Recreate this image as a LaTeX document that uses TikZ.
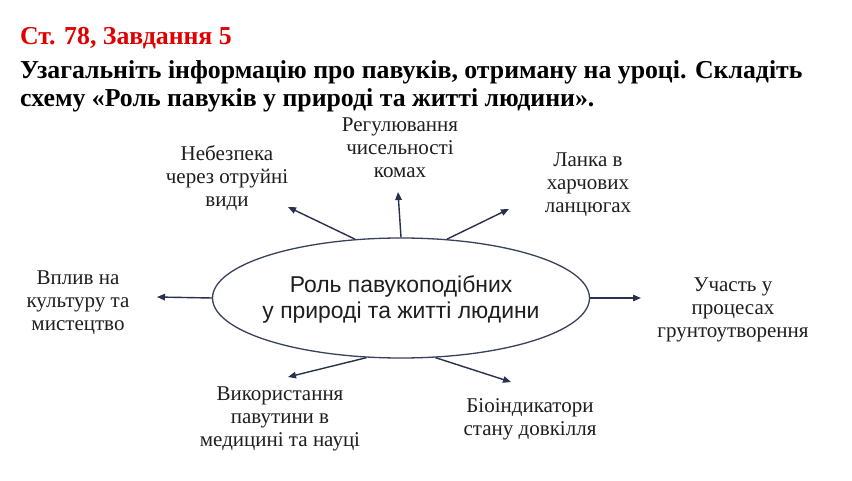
\documentclass[tikz,border=0pt]{standalone}
\usepackage{fontspec}
\setmainfont{Liberation Serif}
\newfontfamily\arialf{Liberation Sans}
\usetikzlibrary{arrows.meta,shapes.geometric}
\definecolor{hdred}{HTML}{E00000}
\definecolor{arrowc}{HTML}{27304F}
\definecolor{txtc}{HTML}{1E1E1E}
\begin{document}
\begin{tikzpicture}[x=1pt,y=-1pt,
  hdr/.style={anchor=base west,inner sep=0pt,font=\fontsize{25.8}{28}\selectfont\bfseries},
  lbl/.style={align=center,inner sep=0pt,text=txtc,font=\fontsize{21}{23}\selectfont},
  arr/.style={draw=arrowc,line width=1.4pt,-{Triangle[length=8pt,width=6.5pt]}}]
\useasboundingbox[fill=white] (0,0) rectangle (852,481);
\node[hdr,text=hdred] (h1) at (20,45) {Ст. 78, Завдання 5};
\node[hdr] (h2) at (20,79) {Узагальніть інформацію про павуків, отриману на уроці. Складіть};
\node[hdr] (h3) at (20,107) {схему «Роль павуків у природі та житті людини».};
\node[draw=arrowc!80!gray,line width=1.3pt,ellipse,inner sep=0pt,minimum width=377pt,minimum height=120pt] (c) at (401,298) {};
\node[inner sep=0pt,align=center,font=\arialf\fontsize{22.9}{26}\selectfont,text=txtc] (ct) at (401,299) {Роль павукоподібних\\у природі та житті людини};
\node[lbl] (n1) at (227,178) {Небезпека\\через отруйні\\види};
\node[lbl] (n2) at (400,148) {Регулювання\\чисельності\\комах};
\node[lbl] (n3) at (588,185) {Ланка в\\харчових\\ланцюгах};
\node[lbl] (n4) at (78,303) {Вплив на\\культуру та\\мистецтво};
\node[lbl] (n5) at (733,310) {Участь у\\процесах\\грунтоутворення};
\node[lbl] (n6) at (280,419) {Використання\\павутини в\\медицині та науці};
\node[lbl] (n7) at (530,419) {Біоіндикатори\\стану довкілля};
\coordinate (t1) at (288,207);
\coordinate (t2) at (398,192);
\coordinate (t3) at (509,209);
\coordinate (t4) at (157,297);
\coordinate (t5) at (641,298);
\coordinate (t6) at (288,377);
\coordinate (t7) at (511,382);
\draw[arr] (c.128) -- (t1);
\draw[arr] (c.north) -- (t2);
\draw[arr] (c.52) -- (t3);
\draw[arr] (c.west) -- (t4);
\draw[arr] (c.east) -- (t5);
\draw[arr] (c.-120) -- (t6);
\draw[arr] (c.-60) -- (t7);
\end{tikzpicture}
\end{document}
